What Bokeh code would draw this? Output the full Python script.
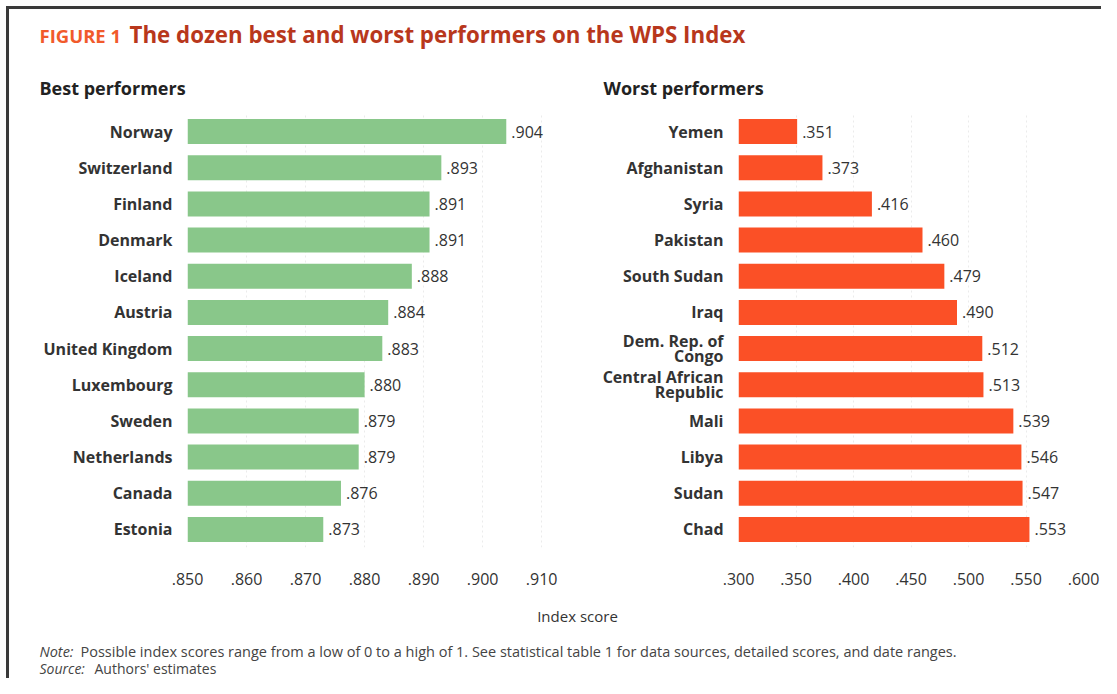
from bokeh.plotting import figure
from bokeh.models import (ColumnDataSource, FactorRange, Range1d, FixedTicker,
                          CustomJSTickFormatter, Label, Spacer)
from bokeh.layouts import column, row
from bokeh.embed import file_html
from bokeh.resources import INLINE
from bokeh.core.properties import value

# ---------------- data ----------------
best_names = ["Norway", "Switzerland", "Finland", "Denmark", "Iceland", "Austria",
              "United Kingdom", "Luxembourg", "Sweden", "Netherlands", "Canada", "Estonia"]
best_scores = [0.904, 0.893, 0.891, 0.891, 0.888, 0.884, 0.883, 0.880, 0.879, 0.879, 0.876, 0.873]

worst_names = ["Yemen", "Afghanistan", "Syria", "Pakistan", "South Sudan", "Iraq",
               "Dem. Rep. of\nCongo", "Central African\nRepublic", "Mali", "Libya", "Sudan", "Chad"]
worst_scores = [0.351, 0.373, 0.416, 0.460, 0.479, 0.490, 0.512, 0.513, 0.539, 0.546, 0.547, 0.553]

best_ticks = [0.850, 0.860, 0.870, 0.880, 0.890, 0.900, 0.910]
worst_ticks = [0.300, 0.350, 0.400, 0.450, 0.500, 0.550, 0.600]

fig_label = "FIGURE 1"
title_text = "The dozen best and worst performers on the WPS Index"
best_title = "Best performers"
worst_title = "Worst performers"
x_title = "Index score"
note_head = "Note:"
note_body = "Possible index scores range from a low of 0 to a high of 1. See statistical table 1 for data sources, detailed scores, and date ranges."
source_head = "Source:"
source_body = "Authors' estimates"

# ---------------- styles ----------------
FONT = "Open Sans"
TXT = "#333333"
GREEN = "#89c78a"
RED = "#fb5026"

fmt = CustomJSTickFormatter(code="return tick.toFixed(3).replace(/^0/, '');")


def fmt_val(v):
    return ("%.3f" % v).lstrip("0")


def panel(names, scores, ticks, x_start, x_end, color, width, mbl, mbr):
    src = ColumnDataSource(dict(name=names, score=scores,
                                lbl=[fmt_val(s) for s in scores],
                                left=[x_start] * len(scores)))
    p = figure(width=width, height=490, output_backend="svg", toolbar_location=None,
               y_range=FactorRange(factors=list(reversed(names))),
               x_range=Range1d(x_start, x_end),
               min_border_left=mbl, min_border_right=mbr,
               min_border_top=3, min_border_bottom=53)
    p.outline_line_color = None
    p.background_fill_color = "white"
    p.border_fill_color = "white"
    p.hbar(y="name", left="left", right="score", height=0.69, source=src,
           fill_color=color, line_color=None)
    p.text(x="score", y="name", text="lbl", source=src, x_offset=5,
           text_baseline="middle", text_align="left", text_font=value(FONT),
           text_font_size="16px", text_color=TXT)
    p.ygrid.grid_line_color = None
    p.xgrid.ticker = FixedTicker(ticks=ticks)
    p.xgrid.grid_line_color = "#ebebeb"
    p.xgrid.grid_line_dash = "2 3"
    p.xaxis.ticker = FixedTicker(ticks=ticks)
    p.xaxis.formatter = fmt
    for ax in (p.xaxis[0], p.yaxis[0]):
        ax.axis_line_color = None
        ax.major_tick_line_color = None
        ax.minor_tick_line_color = None
        ax.major_tick_out = 0
        ax.major_tick_in = 0
        ax.minor_tick_out = 0
        ax.minor_tick_in = 0
        ax.major_label_text_font = FONT
        ax.major_label_text_color = TXT
    p.xaxis.major_label_text_font_size = "16px"
    p.xaxis.major_label_standoff = 25
    p.yaxis.major_label_text_font_size = "16px"
    p.yaxis.major_label_standoff = 15
    p.yaxis.major_label_text_font_style = "bold"
    p.yaxis.major_label_text_line_height = 0.7
    return p


left = panel(best_names, best_scores, best_ticks, 0.850, 0.912, GREEN, 566, 178, 22)
right = panel(worst_names, worst_scores, worst_ticks, 0.300, 0.600, RED, 526, 163, 18)


def text_fig(w, h):
    p = figure(width=w, height=h, output_backend="svg", toolbar_location=None,
               x_range=Range1d(0, w), y_range=Range1d(h, 0),
               x_axis_location=None, y_axis_location=None, min_border=0)
    p.outline_line_color = None
    p.grid.visible = False
    return p


top = text_fig(1092, 101)
top.add_layout(Label(x=30, y=26, text=fig_label, text_font=FONT, text_font_size="18.5px",
                     text_font_style="bold", text_color="#f15a2b", text_baseline="middle"))
top.add_layout(Label(x=120, y=25, text=title_text, text_font=FONT, text_font_size="22.3px",
                     text_font_style="bold", text_color="#b8371c", text_baseline="middle"))
top.add_layout(Label(x=30, y=78, text=best_title, text_font=FONT, text_font_size="18px",
                     text_font_style="bold", text_color="#222222", text_baseline="middle"))
top.add_layout(Label(x=594, y=78, text=worst_title, text_font=FONT, text_font_size="18px",
                     text_font_style="bold", text_color="#222222", text_baseline="middle"))

bottom = text_fig(1092, 78)
bottom.add_layout(Label(x=568, y=15, text=x_title, text_font=FONT, text_font_size="15px",
                        text_color=TXT, text_baseline="middle", text_align="center"))
bottom.add_layout(Label(x=30, y=51, text=note_head, text_font=FONT, text_font_size="14.5px",
                        text_font_style="italic", text_color="#444444", text_baseline="middle"))
bottom.add_layout(Label(x=71, y=51, text=note_body, text_font=FONT, text_font_size="14.5px",
                        text_color="#444444", text_baseline="middle"))
bottom.add_layout(Label(x=30, y=68, text=source_head, text_font=FONT, text_font_size="14px",
                        text_font_style="italic", text_color="#444444", text_baseline="middle"))
bottom.add_layout(Label(x=85, y=68, text=source_body, text_font=FONT, text_font_size="14px",
                        text_color="#444444", text_baseline="middle"))

inner = column(top, row(left, right), bottom,
               styles={"border-top": "3px solid #3a3a3a", "border-left": "3px solid #3a3a3a"})
layout = column(Spacer(width=1101, height=6), row(Spacer(width=6, height=10), inner))

open("out.html", "w").write(file_html(layout, INLINE))
